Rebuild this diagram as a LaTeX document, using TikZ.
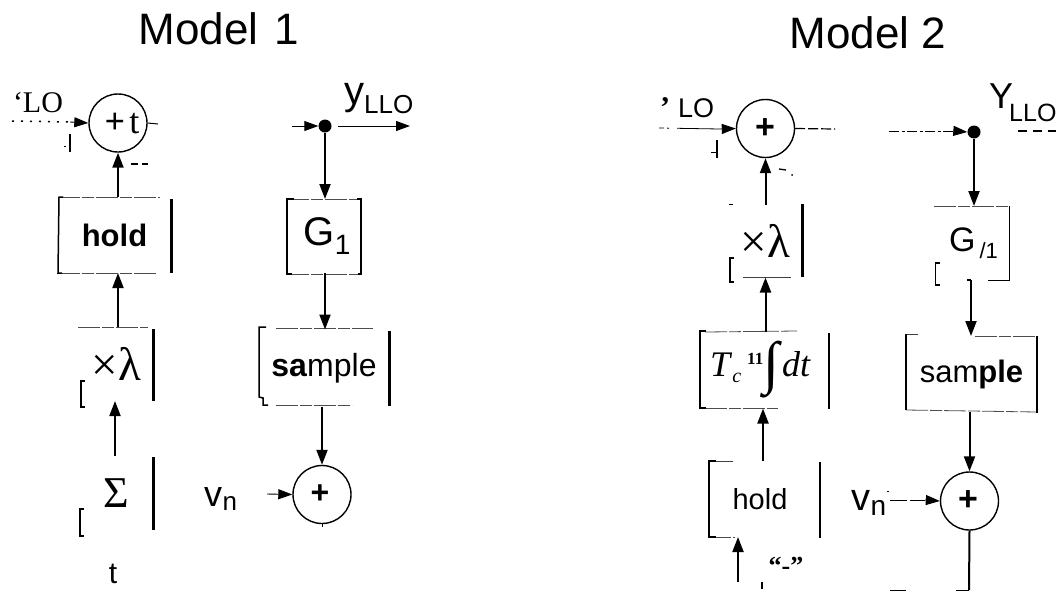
\documentclass[tikz,border=0pt]{standalone}
\usepackage{fontspec}
\setmainfont{Liberation Sans}
\newfontfamily\serf{Liberation Serif}
\usetikzlibrary{arrows.meta}
\newcommand{\fs}[1]{\fontsize{#1}{#1}\selectfont}
\tikzset{
  arr/.style={line width=2pt,-{Stealth[length=15pt,width=11pt,inset=0pt]}},
  thinarr/.style={line width=0.9pt,-{Stealth[length=14pt,width=10pt,inset=0pt]}},
  sumc/.style={circle,draw,line width=1.4pt,minimum size=58pt,inner sep=0pt},
  dotn/.style={circle,fill,minimum size=13pt,inner sep=0pt},
  blk/.style={inner sep=0pt,outer sep=0pt,rectangle,text=black},
  edgeln/.style={line width=0.8pt,black!75},
  edgedash/.style={line width=0.8pt,black!70,dash pattern=on 22pt off 2pt on 12pt off 2pt},
  bar/.style={line width=3pt},
  brk/.style={line width=1.5pt},
  title/.style={inner sep=0pt,font=\fs{44}},
  lab/.style={inner sep=0pt}
}
\begin{document}
\begin{tikzpicture}[x=1pt,y=-1pt]
\useasboundingbox (0,0) rectangle (1062,592);
\fill[white] (0,0) rectangle (1062,592);

% ---------- Model 1
\node[title] (t1) at (219,29) {Model\hspace{4pt} 1};
\node[sumc] (c1) at (118,123) {};
\node[lab,font=\serf\fs{36}] (c1t) at (122,124) {\textbf{+}\hspace{4pt}t};
\node[lab,font=\serf\fs{30}] (lo1) at (38,103) {‘LO};
\coordinate (in1) at (12,121);
\coordinate (in1b) at (70,122);
\draw[line width=1.5pt,dash pattern=on 2pt off 7pt] (in1) -- (in1b);
\draw[thinarr] (in1b) -- (c1.west);
\coordinate (out1) at (158,124);
\draw[line width=1pt] (c1.east) -- (out1);
\draw[line width=1pt] (64,146) -- (66,146);
\draw[line width=1.3pt] (70,134) -- (70,152);
\draw[line width=1.5pt] (131,164) -- (138,164) (142,164) -- (148,164);

\node[blk,minimum width=113pt,minimum height=76pt,font=\bfseries\fs{31}] (h1) at (114.5,235) {hold};
\draw[edgedash] (58,197) -- (160,197);
\draw[edgedash] (58,273) -- (157,273);
\draw[brk] (63,197) -- (59,197) -- (58,273) -- (62,273);
\draw[bar] (171,199) -- (171,273);
\draw[arr] (h1.north -| c1.south) -- (c1.south);

\node[blk,minimum width=73pt,minimum height=74pt,font=\serf\fs{47}] (x1) at (116.5,364) {×λ};
\draw[edgedash] (78,327) -- (148,327);
\draw[bar] (153,329) -- (153,401);
\draw[brk] (85,381) -- (81,381) -- (81,407) -- (85,407);
\draw[arr] (x1.north -| c1.south) -- (h1.south -| c1.south);

\node[blk,minimum width=73pt,minimum height=74pt,font=\serf\fs{44}] (s1) at (116.5,493) {Σ};
\draw[bar] (153,457) -- (153,530);
\draw[brk] (84,509) -- (80,509) -- (80,536) -- (84,536);
\draw[arr] (s1.north -| 115,0) -- (x1.south -| 115,0);
\node[lab,font=\fs{30}] (t1b) at (113,574) {t};

\node[dotn] (d1) at (325,126) {};
\coordinate (di1) at (292,126);
\coordinate (do1) at (338,126);
\coordinate (do1b) at (410,126);
\draw[thinarr] (di1) -- (d1.west);
\draw[thinarr] (do1) -- (do1b);
\node[lab,anchor=base west,font=\fs{40}] (y1) at (344,104) {y};
\node[lab,anchor=base west,font=\fs{26}] (y1s) at (364,113) {LLO};

\node[blk,minimum width=74pt,minimum height=74pt,font=\fs{40}] (g1) at (324,236) {\hspace*{6pt}G\raisebox{-9pt}{\fs{28}1}};
\draw[edgedash] (287,199) -- (361,199);
\draw[edgedash] (287,274) -- (361,274);
\draw[brk] (294,199) -- (287,199) -- (287,274) -- (292,274);
\draw[line width=1.2pt] (358,274) -- (361,274) -- (361,199) -- (357,199);
\draw[arr] (d1.south) -- (g1.north -| d1.south);

\node[blk,minimum width=130pt,minimum height=77pt,font=\fs{32}] (m1) at (324,368) {\raisebox{-3pt}{\textbf{sa}mple}};
\draw[edgedash] (276,328) -- (373,328);
\draw[edgedash] (276,405) -- (352,405);
\draw[brk] (266,327) -- (259,327) -- (259,397) -- (263,398) -- (263,405) -- (268,405);
\draw[bar] (389,331) -- (389,406);
\draw[arr] (g1.south -| d1.south) -- (m1.north -| d1.south);

\node[sumc] (c2) at (322,494.5) {};
\node[lab,font=\bfseries\fs{32}] (c2t) at (320,494) {+};
\draw[arr] (m1.south -| c2.north) -- (c2.north);
\node[lab,anchor=base west,font=\fs{36}] (v1) at (204,506) {v};
\node[lab,anchor=base west,font=\fs{26}] (v1s) at (222.5,510) {n};
\coordinate (vi1) at (267,494);
\draw[thinarr] (vi1) -- (c2.west);
\draw[line width=1pt] (c2.south) -- ++(0,3);

% ---------- Model 2
\node[title] (t2) at (868,33) {Model 2};
\node[sumc] (c3) at (765.5,128.5) {};
\node[lab,font=\bfseries\fs{34}] (c3t) at (765,129) {+};
\node[lab,anchor=base west,font=\fs{27}] (lo2) at (678,117) {LO};
\node[lab,anchor=base west,font=\serf\bfseries\fs{30}] (lo2q) at (660,117) {’};
\coordinate (in2) at (659,128);
\coordinate (in2b) at (720,129);
\draw[line width=0.8pt,dash pattern=on 5pt off 3pt on 2pt off 8pt on 40pt off 0pt] (in2) -- (in2b);
\draw[thinarr] (in2b) -- (c3.west);
\coordinate (out3) at (835,129);
\draw[line width=1.2pt,dash pattern=on 10pt off 3pt] (c3.east) -- (out3);
\draw[line width=1pt] (711,152) -- (716,152);
\draw[line width=1.3pt] (717,140) -- (717,158);
\draw[line width=1.3pt] (779,169) -- (786,170);
\fill (792,175) circle (1pt);

\node[blk,minimum width=73pt,minimum height=73pt,font=\serf\fs{47}] (x2) at (765.5,241) {×λ};
\draw[line width=1pt] (729,204) -- (733,204);
\draw[bar] (802,204) -- (802,277);
\draw[edgeln] (743,277) -- (791,277);
\draw[line width=1.1pt] (734,258) -- (730,258) -- (730,282) -- (734,282);
\draw[arr] (x2.north) -- (c3.south);

\node[blk,minimum width=129pt,minimum height=77pt,font=\serf\fs{36}] (i2) at (764.5,370) {\hspace*{-8pt}\textit{T}\raisebox{-6pt}{\fs{20}\textit{c}}\hspace{6pt}\raisebox{12pt}{\fs{17}\textbf{11}}{\fs{58}\raisebox{-6pt}{\textit{∫}}}\textit{dt}};
\draw[edgedash] (705,332) -- (797,331);
\draw[edgedash] (705,408) -- (778,408);
\draw[brk] (706,331) -- (700,331) -- (700,408) -- (706,408);
\draw[line width=1.6pt] (829,333) -- (829,409);
\draw[arr] (i2.north -| x2.south) -- (x2.south);

\node[blk,minimum width=111pt,minimum height=76pt,font=\fs{29}] (h2) at (764.5,499) {\hspace*{-9pt}hold};
\draw[edgeln] (709,461) -- (733,461);
\draw[edgedash] (709,537) -- (735,537);
\draw[brk] (716,461) -- (709,461) -- (709,537) -- (716,537);
\draw[line width=1.6pt] (820,462) -- (820,538);
\draw[arr] (h2.north -| 763,0) -- (i2.south -| 763,0);
\coordinate (hin) at (738,582);
\draw[arr] (hin) -- (hin |- h2.south);
\node[lab,font=\serf\bfseries\fs{26}] (q2) at (786,566) {“-”};
\draw[line width=1.5pt] (762,582) -- (762,589);

\node[dotn] (d2) at (974,132) {};
\coordinate (di2) at (889,131);
\coordinate (di2b) at (955,131);
\draw[line width=0.8pt,dash pattern=on 10pt off 3pt on 3pt off 2pt] (di2) -- (di2b);
\draw[thinarr] (di2b) -- (d2.west);
\node[lab,anchor=base west,font=\fs{36}] (y2) at (989,108) {Y};
\node[lab,anchor=base west,font=\fs{25}] (y2s) at (1009,121) {LLO};
\coordinate (do2) at (1018,131);
\coordinate (do2b) at (1056,131);
\draw[line width=1.2pt,dash pattern=on 9pt off 6pt] (do2) -- (do2b);

\node[blk,minimum width=75pt,minimum height=74pt,font=\fs{34}] (g2) at (971.5,243) {\hspace*{4pt}G\hspace{4pt}\raisebox{-7pt}{\fs{22}/1}};
\draw[edgedash] (934,206) -- (1009,206);
\draw[line width=1pt] (1009,206) -- (1009,280) -- (988,280);
\draw[line width=1.5pt] (940,263) -- (935.5,263) -- (935.5,285) -- (940,285);
\draw[arr] (d2.south) -- (g2.north -| d2.south);

\node[blk,minimum width=131pt,minimum height=76pt,font=\fs{31}] (m2) at (971.5,374) {\raisebox{-5pt}{sam\textbf{ple}}};
\draw[edgeln] (906,334) -- (918,334);
\draw[edgedash] (975,336) -- (1037,336);
\draw[edgedash] (906,410) -- (1037,412);
\draw[line width=1.2pt] (906,334) -- (906,410);
\draw[line width=1.2pt] (1037,336) -- (1037,413);
\draw[line width=1.2pt] (967,280) -- (971,280);
\draw[arr] (g2.south -| 971,0) -- (m2.north -| 971,0);

\node[sumc] (c4) at (969.5,501) {};
\node[lab,font=\bfseries\fs{34}] (c4t) at (968,501) {+};
\draw[arr] (m2.south -| c4.north) -- (c4.north);
\node[lab,anchor=base west,font=\fs{38}] (v2) at (851,510) {v};
\node[lab,anchor=base west,font=\fs{28}] (v2s) at (870.5,515) {n};
\coordinate (vi2) at (890,500);
\coordinate (vi2b) at (925,500);
\draw[line width=0.8pt,dash pattern=on 17pt off 3pt] (vi2) -- (vi2b);
\draw[thinarr] (vi2b) -- (c4.west);
\draw[line width=1pt] (887,491) -- (889,491);
\coordinate (cor) at (969,590);
\coordinate (cor2) at (890,590);
\draw[line width=2pt] (c4.south) -- (cor);
\draw[line width=0.8pt,dash pattern=on 16pt off 50pt on 30pt off 0pt] (cor2) -- (cor);
\end{tikzpicture}
\end{document}
